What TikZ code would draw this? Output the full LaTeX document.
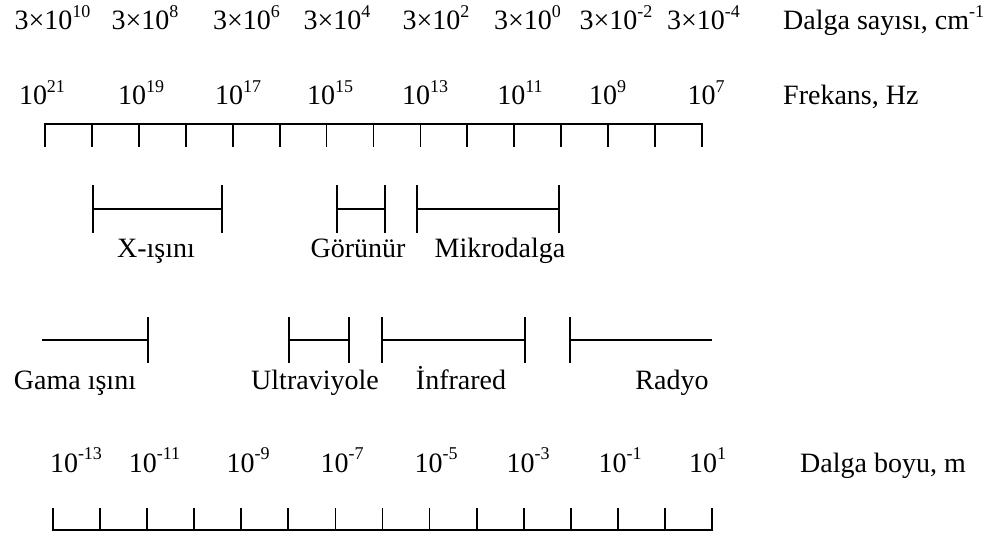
\documentclass[tikz,border=0pt]{standalone}
\usepackage{fontspec}
\setmainfont{Liberation Serif}
% raised exponent in the text font
\newcommand\pw[1]{\raisebox{0.45em}{\fontsize{18}{18}\selectfont #1}}
\begin{document}
\begin{tikzpicture}[x=1pt,y=-1pt,
  lbl/.style={inner sep=0pt, anchor=base, font=\fontsize{28}{32}\selectfont},
  lblw/.style={lbl, anchor=base west},
  scale line/.style={line width=1.8pt},
  band/.style={line width=1.8pt}]
\useasboundingbox (0,0) rectangle (1003,537);

% wavenumber row
\node[lbl] (w1) at (52.5,30) {3×10\pw{10}};
\node[lbl] (w2) at (145,30) {3×10\pw{8}};
\node[lbl] (w3) at (246.5,30) {3×10\pw{6}};
\node[lbl] (w4) at (337,30) {3×10\pw{4}};
\node[lbl] (w5) at (436,30) {3×10\pw{2}};
\node[lbl] (w6) at (527.5,30) {3×10\pw{0}};
\node[lbl] (w7) at (616,30) {3×10\pw{-2}};
\node[lbl] (w8) at (703.5,30) {3×10\pw{-4}};
\node[lblw] (wt) at (783,30) {Dalga sayısı, cm\pw{-1}};

% frequency row
\node[lbl] (f1) at (42,105) {10\pw{21}};
\node[lbl] (f2) at (141,105) {10\pw{19}};
\node[lbl] (f3) at (238,105) {10\pw{17}};
\node[lbl] (f4) at (330,105) {10\pw{15}};
\node[lbl] (f5) at (425,105) {10\pw{13}};
\node[lbl] (f6) at (520,105) {10\pw{11}};
\node[lbl] (f7) at (607.5,105) {10\pw{9}};
\node[lbl] (f8) at (706,105) {10\pw{7}};
\node[lblw] (ft) at (783,105) {Frekans, Hz};

% upper scale
\draw[scale line] (45,147) -- (45,124) -- (702,124) -- (702,147);
\foreach \i in {1,...,13} \draw[scale line] ({45+46.93*\i},124) -- ++(0,23);

% first band row
\draw[band] (93,185) -- (93,233) (93,209) -- (222,209) (222,185) -- (222,233);
\draw[band] (337,185) -- (337,233) (337,209) -- (385,209) (385,185) -- (385,233);
\draw[band] (417,185) -- (417,233) (417,209) -- (559,209) (559,185) -- (559,233);
\node[lbl] (xr) at (156,258) {X-ışını};
\node[lbl] (vis) at (358,258) {Görünür};
\node[lbl] (mw) at (500,258) {Mikrodalga};

% second band row
\draw[band] (42,340) -- (148,340) (148,317) -- (148,363);
\draw[band] (289,317) -- (289,363) (289,340) -- (349,340) (349,317) -- (349,363);
\draw[band] (382,317) -- (382,363) (382,340) -- (525,340) (525,317) -- (525,363);
\draw[band] (570,317) -- (570,363) (570,340) -- (712,340);
\node[lbl] (gr) at (75,389) {Gama ışını};
\node[lbl] (uv) at (315,389) {Ultraviyole};
\node[lbl] (ir) at (461,389) {İnfrared};
\node[lbl] (rd) at (672,389) {Radyo};

% wavelength row
\node[lbl] (l1) at (76,472) {10\pw{-13}};
\node[lbl] (l2) at (154.5,472) {10\pw{-11}};
\node[lbl] (l3) at (248,472) {10\pw{-9}};
\node[lbl] (l4) at (342,472) {10\pw{-7}};
\node[lbl] (l5) at (436,472) {10\pw{-5}};
\node[lbl] (l6) at (528,472) {10\pw{-3}};
\node[lbl] (l7) at (620,472) {10\pw{-1}};
\node[lbl] (l8) at (707.5,472) {10\pw{1}};
\node[lblw] (lt) at (800,472) {Dalga boyu, m};

% lower scale
\draw[scale line] (53,508) -- (53,530) -- (712,530) -- (712,508);
\foreach \i in {1,...,13} \draw[scale line] ({53+47.07*\i},530) -- ++(0,-22);
\end{tikzpicture}
\end{document}
